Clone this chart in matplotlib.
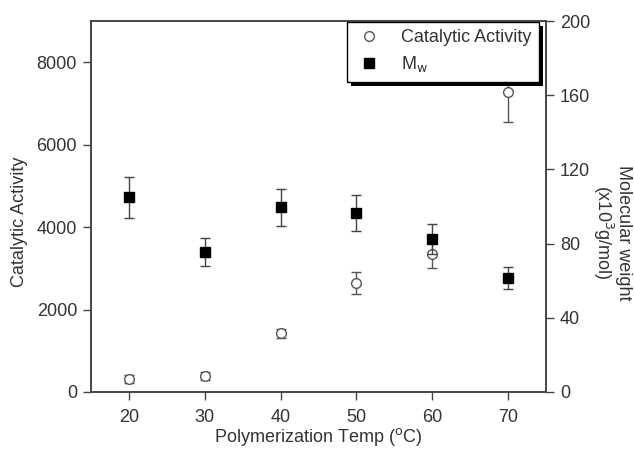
import matplotlib.pyplot as plt
from matplotlib.lines import Line2D
from matplotlib.patches import Rectangle
from matplotlib.transforms import IdentityTransform

plt.rcParams['font.family'] = ['Liberation Sans', 'DejaVu Sans']

# polymerization temperatures (deg C)
temps = [20, 30, 40, 50, 60, 70]

# catalytic activity (left axis) with error
activity = [315, 380, 1430, 2640, 3340, 7270]
activity_err = [100, 100, 110, 270, 340, 730]

# molecular weight Mw (x10^3 g/mol, right axis) with error
mw = [105, 75.5, 99.5, 96.5, 82.5, 61.5]
mw_err = [11, 7.5, 10, 9.7, 8, 6]

text_col = '#333333'
line_col = '#444444'

fig = plt.figure(figsize=(6.34, 4.49), dpi=100)
ax = fig.add_axes([91/634, 1 - 392/449, (546 - 91)/634, (392 - 21)/449])
ax2 = ax.twinx()

ax.errorbar(temps, activity, yerr=activity_err, fmt='o', ms=7, mfc='white',
            mec='#555555', mew=1.0, ecolor='#555555', elinewidth=1.0, capsize=3.5)
ax2.errorbar(temps, mw, yerr=mw_err, fmt='s', ms=7, mfc='black', mec='black',
             ecolor='#444444', elinewidth=1.0, capsize=3.5)

ax.set_xlim(15, 75)
ax.set_ylim(0, 9000)
ax2.set_ylim(0, 200)
ax.set_xticks(temps)
ax.set_yticks([0, 2000, 4000, 6000, 8000])
ax2.set_yticks([0, 40, 80, 120, 160, 200])

for a in (ax, ax2):
    for s in a.spines.values():
        s.set_color(line_col)
        s.set_linewidth(1.2)
    a.tick_params(direction='out', length=6, width=1.0, colors=line_col,
                  labelcolor=text_col, labelsize=13, pad=4)
ax.tick_params(axis='x', pad=6)

ax.set_xlabel('Polymerization Temp ($^{\\rm o}$C)', fontsize=13, color=text_col, labelpad=0)
ax.set_ylabel('Catalytic Activity', fontsize=13, color=text_col, labelpad=6)
ax.yaxis.label.set_y(0.46)
ax2.set_ylabel('Molecular weight\n(x10$^3$g/mol)', fontsize=13, color=text_col,
               rotation=270, labelpad=30, linespacing=1.0)
ax2.yaxis.label.set_y(0.43)

handles = [
    Line2D([], [], marker='o', ls='none', ms=7, mfc='white', mec='#555555'),
    Line2D([], [], marker='s', ls='none', ms=7, mfc='black', mec='black'),
]
leg = ax2.legend(handles, ['Catalytic Activity', 'M$_{\\rm w}$'], loc='upper right',
                 bbox_to_anchor=(539/634, 1 - 22/449), bbox_transform=fig.transFigure,
                 borderaxespad=0, fancybox=False, frameon=True, framealpha=1.0,
                 fontsize=13, handletextpad=1.0, borderpad=0.4, labelspacing=0.45,
                 handlelength=1.6)
leg.get_frame().set_facecolor('white')
leg.get_frame().set_edgecolor('black')
leg.get_frame().set_linewidth(1.0)
for t in leg.get_texts():
    t.set_color(text_col)
leg.set_zorder(10)

# solid drop shadow behind the legend box
fig.canvas.draw()
bb = leg.get_frame().get_window_extent()
shadow = Rectangle((bb.x0 + 4, bb.y0 - 4), bb.width, bb.height, transform=IdentityTransform(),
                   facecolor='black', edgecolor='none', zorder=9, clip_on=False)
ax2.add_artist(shadow)

fig.savefig('out.png', dpi=100)
